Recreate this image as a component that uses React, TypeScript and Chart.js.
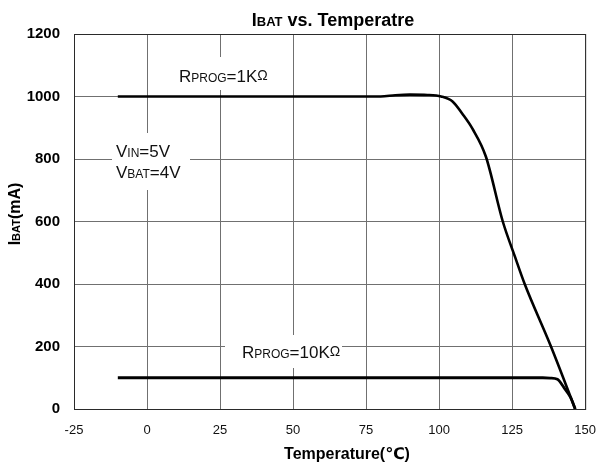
import { useEffect, useRef } from "react";
import { Chart, registerables } from "chart.js";

Chart.register(...registerables);

// ---- data ----
const temp1k = [-10, 20, 50, 80, 85, 90, 96, 100.7, 104.6, 108, 111.4, 116, 121.8, 125.9, 129.3, 138.3, 146.6];
const ibat1k = [1000, 1000, 1000, 1000, 1004, 1006, 1005, 1000, 984, 944, 897, 808, 600, 489, 400, 200, 0];

const temp10k = [-10, 30, 80, 120, 135.5, 138, 140.5, 142.7, 145, 146.6];
const ibat10k = [100, 100, 100, 100, 100, 99, 95, 69, 37, 0];

const xTicks = [-25, 0, 25, 50, 75, 100, 125, 150];
const yTicks = [0, 200, 400, 600, 800, 1000, 1200];

const FONT = '"Liberation Sans", Arial, "DejaVu Sans", sans-serif';

type Seg = { t: string; size: number; bold?: boolean; dy?: number };

function measure(ctx: CanvasRenderingContext2D, segs: Seg[]) {
  let w = 0;
  for (const s of segs) {
    ctx.font = `${s.bold ? "bold " : ""}${s.size}px ${FONT}`;
    w += ctx.measureText(s.t).width;
  }
  return w;
}

function rich(ctx: CanvasRenderingContext2D, segs: Seg[], x: number, y: number, align: "left" | "center" = "left") {
  const w = measure(ctx, segs);
  let cx = align === "center" ? x - w / 2 : x;
  ctx.textAlign = "left";
  ctx.textBaseline = "alphabetic";
  for (const s of segs) {
    ctx.font = `${s.bold ? "bold " : ""}${s.size}px ${FONT}`;
    ctx.fillText(s.t, cx, y + (s.dy || 0));
    cx += ctx.measureText(s.t).width;
  }
}

const decorPlugin = {
  id: "decor",
  beforeDatasetsDraw(chart: any) {
    const { ctx, chartArea: a } = chart;
    ctx.save();
    // frame
    ctx.strokeStyle = "#2a2a2a";
    ctx.lineWidth = 1;
    ctx.strokeRect(a.left + 0.5, a.top + 0.5, a.right - a.left, a.bottom - a.top);

    // white label boxes
    ctx.fillStyle = "#ffffff";
    ctx.fillRect(170, 57, 106, 33);
    ctx.fillRect(112, 133, 78, 57);
    ctx.fillRect(225, 335, 117, 33);

    ctx.fillStyle = "#111111";
    rich(ctx, [
      { t: "R", size: 17 },
      { t: "PROG", size: 12 },
      { t: "=1K", size: 17 },
      { t: "Ω", size: 14, dy: -2 },
    ], 179, 82);
    rich(ctx, [
      { t: "V", size: 17 },
      { t: "IN", size: 12 },
      { t: "=5V", size: 17 },
    ], 116, 157);
    rich(ctx, [
      { t: "V", size: 17 },
      { t: "BAT", size: 12 },
      { t: "=4V", size: 17 },
    ], 116, 178);
    rich(ctx, [
      { t: "R", size: 17 },
      { t: "PROG", size: 12 },
      { t: "=10K", size: 17 },
      { t: "Ω", size: 14, dy: -2 },
    ], 242, 358);
    ctx.restore();
  },
  afterDraw(chart: any) {
    const { ctx } = chart;
    ctx.save();
    ctx.fillStyle = "#000000";
    // chart title
    rich(ctx, [
      { t: "I", size: 18, bold: true },
      { t: "BAT", size: 13, bold: true },
      { t: " vs. Temperatre", size: 18, bold: true },
    ], 333, 26, "center");
    // x axis title
    rich(ctx, [{ t: "Temperature(℃)", size: 16, bold: true }], 347, 459, "center");
    // y axis title (rotated)
    ctx.translate(20, 214);
    ctx.rotate(-Math.PI / 2);
    rich(ctx, [
      { t: "I", size: 16, bold: true },
      { t: "BAT", size: 11, bold: true },
      { t: "(mA)", size: 16, bold: true },
    ], 0, 0, "center");
    ctx.restore();
  },
};

export default function App() {
  const ref = useRef<HTMLCanvasElement | null>(null);

  useEffect(() => {
    if (!ref.current) return;
    const chart = new Chart(ref.current, {
      type: "line",
      data: {
        datasets: [
          {
            label: "RPROG=1KΩ",
            data: temp1k.map((t, i) => ({ x: t, y: ibat1k[i] })),
            borderColor: "#000000",
            borderWidth: 2.6,
            pointRadius: 0,
            cubicInterpolationMode: "monotone",
            fill: false,
          },
          {
            label: "RPROG=10KΩ",
            data: temp10k.map((t, i) => ({ x: t, y: ibat10k[i] })),
            borderColor: "#000000",
            borderWidth: 2.8,
            pointRadius: 0,
            cubicInterpolationMode: "monotone",
            fill: false,
          },
        ],
      },
      options: {
        responsive: false,
        animation: false,
        layout: { padding: { top: 34, right: 12, left: 0, bottom: 0 } },
        plugins: {
          legend: { display: false },
          title: { display: false },
          tooltip: { enabled: false },
        },
        scales: {
          x: {
            type: "linear",
            min: -25,
            max: 150,
            afterBuildTicks: (axis: any) => {
              axis.ticks = xTicks.map((v) => ({ value: v }));
            },
            afterFit: (scale: any) => {
              scale.height = 56;
            },
            grid: { color: "#707070", lineWidth: 1, drawTicks: false },
            border: { color: "#2a2a2a", width: 1 },
            ticks: {
              padding: 14,
              color: "#111111",
              maxRotation: 0,
              callback: (v: any) => String(v),
              font: { family: FONT, size: 13, weight: "normal" },
            },
          },
          y: {
            type: "linear",
            min: 0,
            max: 1200,
            afterBuildTicks: (axis: any) => {
              axis.ticks = yTicks.map((v) => ({ value: v }));
            },
            afterFit: (scale: any) => {
              scale.width = 74;
            },
            grid: { color: "#707070", lineWidth: 1, drawTicks: false },
            border: { color: "#2a2a2a", width: 1 },
            ticks: {
              padding: 14,
              color: "#000000",
              callback: (v: any) => String(v),
              font: { family: FONT, size: 15, weight: "bold" },
            },
          },
        },
      },
      plugins: [decorPlugin],
    } as any);
    return () => chart.destroy();
  }, []);

  return (
    <div style={{ position: "absolute", left: 0, top: 0, width: 610, height: 465, background: "#fff" }}>
      <canvas ref={ref} width={610} height={465} style={{ display: "block" }} />
    </div>
  );
}
